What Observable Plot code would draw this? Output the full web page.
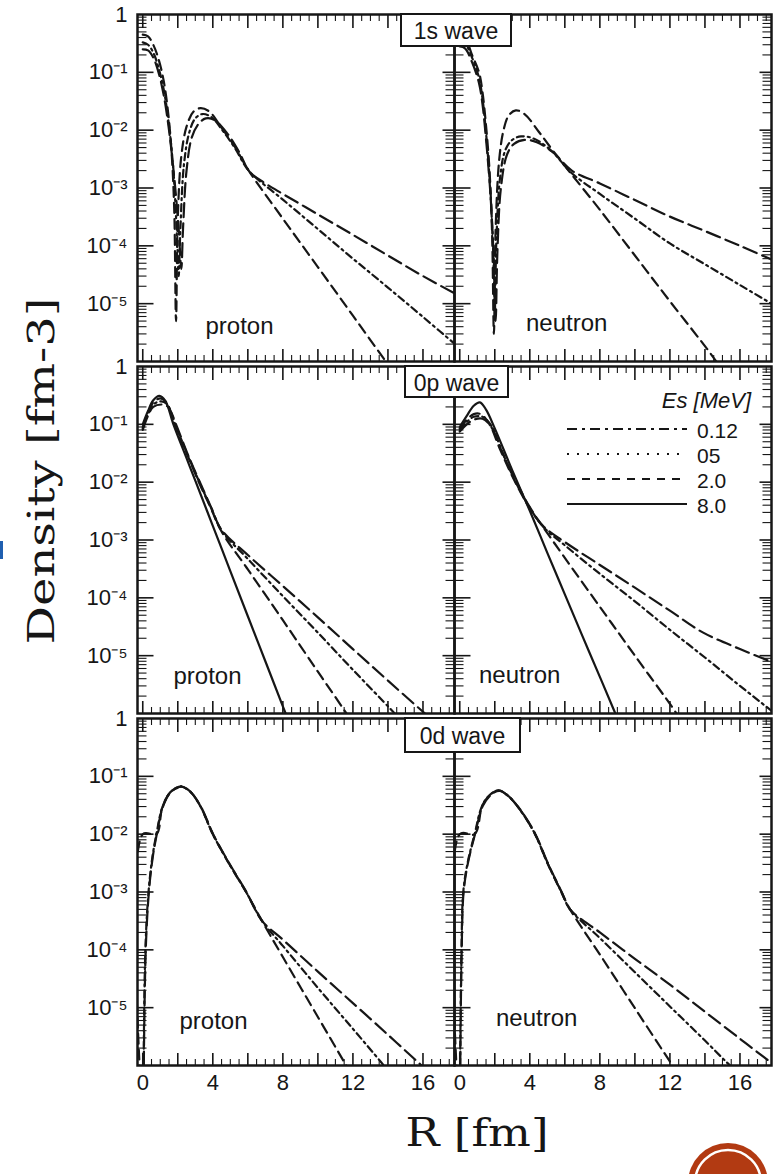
<!DOCTYPE html>
<html><head><meta charset="utf-8">
<script src="https://cdn.jsdelivr.net/npm/d3@7"></script>
<script src="https://cdn.jsdelivr.net/npm/@observablehq/plot@0.6"></script>
<style>
html,body{margin:0;padding:0;background:#fff;}
#chart{position:relative;width:773px;height:1174px;overflow:hidden;}
</style></head><body><div id="chart"></div>
<script>
// ---------- categories & tick labels ----------
const waves = ["1s", "0p", "0d"];
const waveLabels = ["1s wave", "0p wave", "0d wave"];
const nucleons = ["proton", "neutron"];
const energies = ["0.12", "05", "2.0", "8.0"];
const legendTitle = "Es [MeV]";
const xTickLabels = [0, 4, 8, 12, 16];
const yTickValues = [1, 1e-1, 1e-2, 1e-3, 1e-4, 1e-5];
const yTickText = ["1", "10⁻¹", "10⁻²", "10⁻³", "10⁻⁴", "10⁻⁵"];
const xTitle = "R [fm]";
const yTitle = "Density [fm-3]";

// ---------- series values: [R (fm), density (fm^-3)] ----------
// 1s wave, proton
const s1s_p_012 = [[0,0.25],[0.3,0.24],[0.6,0.18],[0.9,0.1],[1.2,0.04],[1.5,0.01],[1.8,0.0015],[2.05,2e-4],[2.2,4e-5],[2.3,2e-4],[2.5,2e-3],[2.8,0.0075],[3.2,0.013],[3.6,0.016],[4.1,0.015],[4.8,0.009],[5.5,0.0042],[6.1,0.0019],[7,0.0012],[8,7.9e-4],[10,3.5e-4],[12,1.55e-4],[14,6.8e-5],[16,3e-5],[18.2,1.3e-5]];
const s1s_p_05 = [[0,0.33],[0.3,0.3],[0.6,0.22],[0.9,0.12],[1.2,0.05],[1.5,0.012],[1.75,0.002],[1.95,1.5e-4],[2.05,3e-5],[2.15,2e-4],[2.35,2.5e-3],[2.65,0.009],[3.0,0.016],[3.4,0.019],[3.9,0.017],[4.6,0.0095],[5.3,0.0047],[6.05,0.002],[8,6.3e-4],[10,1.95e-4],[12,6e-5],[14,1.9e-5],[16,5.9e-6],[18.2,1.6e-6]];
const s1s_p_20 = [[0,0.45],[0.3,0.42],[0.6,0.3],[0.9,0.17],[1.2,0.07],[1.45,0.02],[1.65,0.004],[1.8,4e-4],[1.9,5e-6],[2.0,3e-4],[2.2,3.5e-3],[2.5,0.0115],[2.9,0.021],[3.3,0.024],[3.8,0.021],[4.5,0.011],[5.2,0.0055],[6.05,0.002],[8,2.95e-4],[10,4.3e-5],[12,6.2e-6],[14,8.9e-7],[15,3.4e-7]];
// 1s wave, neutron
const s1s_n_012 = [[0,0.28],[0.3,0.26],[0.7,0.15],[1.1,0.065],[1.3,0.028],[1.5,0.007],[1.75,8e-4],[1.95,5e-5],[2.05,5e-6],[2.15,8e-5],[2.35,1e-3],[2.7,0.0038],[3.1,0.0058],[3.7,0.0068],[4.4,0.0062],[5.3,0.0042],[6.4,0.002],[8,1.2e-3],[10,6.2e-4],[12,3.2e-4],[14,1.8e-4],[16,1e-4],[17.8,5.8e-5]];
const s1s_n_05 = [[0,0.35],[0.3,0.32],[0.7,0.18],[1.1,0.08],[1.3,0.035],[1.5,0.009],[1.7,0.0015],[1.9,1e-4],[2.0,1e-5],[2.1,1.5e-4],[2.3,1.5e-3],[2.6,0.0045],[3.0,0.0068],[3.5,0.0078],[4.2,0.0072],[5.2,0.0045],[6.4,0.0018],[8,7.9e-4],[10,2.95e-4],[12,1.1e-4],[14,4.8e-5],[16,2.1e-5],[17.8,1e-5]];
const s1s_n_20 = [[0,0.45],[0.3,0.4],[0.7,0.2],[1.1,0.1],[1.3,0.045],[1.5,0.012],[1.7,0.002],[1.85,1.5e-4],[1.95,3e-6],[2.05,2e-4],[2.25,3e-3],[2.5,0.01],[2.8,0.018],[3.2,0.022],[3.7,0.019],[4.5,0.0095],[5.3,0.0045],[6.4,0.0017],[8,4.2e-4],[10,6.8e-5],[12,1.1e-5],[14.3,1.4e-6],[15,7e-7]];
// 0p wave, proton
const s0p_p_012 = [[0,0.08],[0.3,0.14],[0.6,0.2],[1.1,0.22],[1.45,0.2],[1.9,0.1],[2.5,0.034],[3.2,0.011],[3.9,3.7e-3],[4.5,1.5e-3],[6,5.5e-4],[8,1.6e-4],[10,4.6e-5],[12,1.3e-5],[14,3.7e-6],[16,1.07e-6],[16.6,7.4e-7]];
const s0p_p_05 = [[0,0.085],[0.3,0.15],[0.6,0.22],[1.05,0.25],[1.4,0.22],[1.85,0.1],[2.5,0.033],[3.2,0.0105],[3.9,3.6e-3],[4.5,1.45e-3],[6,4.7e-4],[8,1.07e-4],[10,2.5e-5],[12,5.7e-6],[14.2,1.15e-6],[15,6.3e-7]];
const s0p_p_20 = [[0,0.09],[0.3,0.16],[0.6,0.24],[1.0,0.28],[1.35,0.24],[1.8,0.1],[2.5,0.032],[3.2,0.01],[3.9,3.5e-3],[4.5,1.4e-3],[6,3.1e-4],[8,4.1e-5],[10,5.3e-6],[11.5,1.15e-6],[12.2,5.6e-7]];
const s0p_p_80 = [[0,0.1],[0.3,0.17],[0.6,0.26],[0.95,0.31],[1.3,0.25],[1.75,0.1],[2.5,0.026],[3.0,0.0106],[4.0,1.76e-3],[5.0,2.9e-4],[6.0,4.8e-5],[7.0,8e-6],[8.0,1.33e-6],[8.6,4.6e-7]];
// 0p wave, neutron
const s0p_n_012 = [[0,0.075],[0.4,0.1],[0.8,0.12],[1.3,0.125],[1.8,0.09],[2.4,0.034],[3.1,0.012],[4.0,3.7e-3],[4.8,1.7e-3],[6,9.2e-4],[8,3.7e-4],[10,1.5e-4],[12,6e-5],[13.9,2.5e-5],[16,1.3e-5],[18,7.4e-6]];
const s0p_n_05 = [[0,0.08],[0.4,0.11],[0.8,0.135],[1.3,0.135],[1.8,0.095],[2.4,0.035],[3.1,0.0115],[4.0,3.6e-3],[4.8,1.65e-3],[6,8.1e-4],[8,2.6e-4],[10,8.7e-5],[12,2.8e-5],[14,9.3e-6],[16,3e-6],[18,1e-6]];
const s0p_n_20 = [[0,0.085],[0.4,0.12],[0.8,0.15],[1.2,0.15],[1.7,0.1],[2.3,0.037],[3.1,0.011],[4.0,3.5e-3],[4.8,1.6e-3],[6,4.9e-4],[8,7e-5],[10,1e-5],[12.2,1.2e-6],[12.7,7e-7]];
const s0p_n_80 = [[0,0.09],[0.4,0.14],[0.8,0.21],[1.15,0.24],[1.5,0.18],[2.0,0.085],[3,0.016],[4,3.2e-3],[5,6e-4],[6,1.15e-4],[7,2.2e-5],[8,4.3e-6],[8.8,1.15e-6],[9.2,5.9e-7]];
// 0d wave, proton
const s0d_p_012 = [[0.06,1e-6],[0.17,1e-4],[0.35,1e-3],[0.57,4e-3],[0.8,0.01],[1.12,0.028],[1.52,0.05],[1.92,0.062],[2.22,0.066],[2.72,0.054],[3.32,0.03],[4.02,0.01],[4.92,3.2e-3],[5.92,1e-3],[6.8,3.2e-4],[8,1.5e-4],[10,4.2e-5],[12,1.2e-5],[14,3.4e-6],[15.7,1.15e-6],[16.3,7.9e-7]];
const s0d_p_05 = [[0.05,1e-6],[0.15,1e-4],[0.33,1e-3],[0.55,4e-3],[0.78,0.01],[1.1,0.028],[1.5,0.05],[1.9,0.063],[2.2,0.067],[2.7,0.055],[3.3,0.03],[4.0,0.01],[4.9,3.2e-3],[5.9,1e-3],[6.8,3.2e-4],[8,1.17e-4],[10,2.2e-5],[12,4.3e-6],[13.6,1.15e-6],[14.2,6.9e-7]];
const s0d_p_20 = [[0,1e-7],[0,0.01],[0.78,0.01],[1.1,0.028],[1.5,0.05],[1.9,0.063],[2.2,0.067],[2.7,0.055],[3.3,0.03],[4.0,0.01],[4.9,3.2e-3],[5.9,1e-3],[6.8,3.2e-4],[8,7.5e-5],[10,6.9e-6],[11.5,1.15e-6],[12,6.3e-7]];
// 0d wave, neutron
const s0d_n_012 = [[0.03,1e-6],[0.11,1e-4],[0.22,1e-3],[0.47,3.2e-3],[0.87,0.01],[1.32,0.031],[1.82,0.049],[2.27,0.056],[2.82,0.044],[3.52,0.025],[4.32,0.01],[5.02,3.2e-3],[5.82,1e-3],[6.3,5e-4],[8,2e-4],[10,7e-5],[12,2.5e-5],[14,8.5e-6],[16,2.9e-6],[17.5,1.3e-6],[18,1e-6]];
const s0d_n_05 = [[0.02,1e-6],[0.1,1e-4],[0.2,1e-3],[0.45,3.2e-3],[0.85,0.01],[1.3,0.032],[1.8,0.05],[2.25,0.057],[2.8,0.045],[3.5,0.025],[4.3,0.01],[5.0,3.2e-3],[5.8,1e-3],[6.3,5e-4],[8,1.6e-4],[10,4.1e-5],[12,1.05e-5],[14,2.7e-6],[15.2,1.17e-6],[15.8,7.9e-7]];
const s0d_n_20 = [[0,1e-7],[0,0.01],[0.85,0.01],[1.3,0.032],[1.8,0.05],[2.25,0.057],[2.8,0.045],[3.5,0.025],[4.3,0.01],[5.0,3.2e-3],[5.8,1e-3],[6.3,5e-4],[8,8.3e-5],[10,9.8e-6],[12,1.17e-6],[12.5,6.9e-7]];

const series = [
  ["1s","proton","0.12",s1s_p_012],["1s","proton","05",s1s_p_05],["1s","proton","2.0",s1s_p_20],
  ["1s","neutron","0.12",s1s_n_012],["1s","neutron","05",s1s_n_05],["1s","neutron","2.0",s1s_n_20],
  ["0p","proton","0.12",s0p_p_012],["0p","proton","05",s0p_p_05],["0p","proton","2.0",s0p_p_20],["0p","proton","8.0",s0p_p_80],
  ["0p","neutron","0.12",s0p_n_012],["0p","neutron","05",s0p_n_05],["0p","neutron","2.0",s0p_n_20],["0p","neutron","8.0",s0p_n_80],
  ["0d","proton","0.12",s0d_p_012],["0d","proton","05",s0d_p_05],["0d","proton","2.0",s0d_p_20],
  ["0d","neutron","0.12",s0d_n_012],["0d","neutron","05",s0d_n_05],["0d","neutron","2.0",s0d_n_20]
];
const rows = series.flatMap(([wave, nucleon, es, pts]) =>
  pts.map(([r, d]) => ({wave, nucleon, es, key: wave + nucleon + es, r, d})));

const panelLabels = [
  {wave:"1s", nucleon:"proton", text:"proton"}, {wave:"1s", nucleon:"neutron", text:"neutron"},
  {wave:"0p", nucleon:"proton", text:"proton"}, {wave:"0p", nucleon:"neutron", text:"neutron"},
  {wave:"0d", nucleon:"proton", text:"proton"}, {wave:"0d", nucleon:"neutron", text:"neutron"}
];

// ---------- layout & styles ----------
const WIDTH = 773, HEIGHT = 1174, ML = 136, MR = 2, MT = 14, MB = 109, GAP = 5;
const colW = (WIDTH - ML - MR) / 2;
const rowH = (HEIGHT - MT - MB - 2 * GAP) / 3;
const ink = "#161616";
const curveDash = {"0.12": "14,6", "05": "7,4,2,4", "2.0": "10,6", "8.0": null};
const legendDash = {"0.12": "10,5,3,5", "05": "2,8", "2.0": "8,7", "8.0": null};
const labelOffsets = [[68,-28],[71.5,-31],[36,-30],[24.5,-31],[42,-37],[41.5,-40]];
const waveBoxes = [[401,511,14,46],[405,508,366,397],[405,520,718,752]];
const legendRowsY = [429, 454, 479, 504];

// tick positions (minor log ticks 2..9 per decade, x every 0.5)
const yMajor = [1e-1,1e-2,1e-3,1e-4,1e-5];
const yMinor = [];
for (let k = -6; k <= -1; k++) for (let m = 2; m <= 9; m++) yMinor.push(m * Math.pow(10, k));
const xMajor = d3.range(0, 18, 2);
const xMinor = d3.range(0.5, 18, 1).concat(d3.range(1, 18, 2));

const yTickL = (vals, len, sw) => Plot.tickY(vals, {y: d => d, insetRight: colW - len, stroke: ink, strokeWidth: sw});
const yTickR = (vals, len, sw) => Plot.tickY(vals, {y: d => d, insetLeft: colW - len, stroke: ink, strokeWidth: sw});
const xTickT = (vals, len, sw) => Plot.tickX(vals, {x: d => d, insetBottom: rowH - len, stroke: ink, strokeWidth: sw});
const xTickB = (vals, len, sw) => Plot.tickX(vals, {x: d => d, insetTop: rowH - len, stroke: ink, strokeWidth: sw});

const plot = Plot.plot({
  width: WIDTH, height: HEIGHT,
  marginLeft: ML, marginRight: MR, marginTop: MT, marginBottom: MB,
  style: {fontFamily: "'Liberation Sans', Arial, Helvetica, sans-serif", fontSize: "22px", color: ink, background: "white"},
  x: {domain: [-0.3, 17.8]},
  y: {type: "log", domain: [1e-6, 1]},
  fx: {domain: nucleons, axis: null, paddingInner: 0, paddingOuter: 0},
  fy: {domain: waves, axis: null, paddingInner: GAP / (rowH + GAP), paddingOuter: 0},
  marks: [
    ...energies.map(e => Plot.line(rows.filter(d => d.es === e), {
      x: "r", y: "d", z: "key", fx: "nucleon", fy: "wave",
      stroke: ink, strokeWidth: 2.2, strokeDasharray: curveDash[e],
      curve: "catmull-rom", clip: true
    })),
    yTickL(yMajor, 17, 1.6), yTickL(yMinor, 10, 1.1),
    yTickR(yMajor, 12, 1.6), yTickR(yMinor, 9, 1.1),
    xTickT(xMajor, 14, 1.6), xTickT(xMinor, 7, 1.1),
    xTickB(xMajor, 12, 1.6), xTickB(xMinor, 6, 1.1),
    Plot.frame({stroke: ink, strokeWidth: 2.5}),
    Plot.axisY(yTickValues, {tickSize: 0, tickPadding: 10, fontSize: 22, label: null,
      tickFormat: d => yTickText[yTickValues.indexOf(d)]}),
    Plot.axisX(xTickLabels, {tickSize: 0, tickPadding: 9, fontSize: 22, label: null}),
    ...panelLabels.map((l, i) => Plot.text([l], {
      fx: "nucleon", fy: "wave", text: "text", frameAnchor: "bottom-left",
      textAnchor: "start", lineAnchor: "bottom", dx: labelOffsets[i][0], dy: labelOffsets[i][1],
      fontSize: 24, fill: ink
    }))
  ]
});

document.getElementById("chart").appendChild(plot);
const svg = d3.select(plot);

// wave label boxes
waveLabels.forEach((t, i) => {
  const [x0, x1, y0, y1] = waveBoxes[i];
  svg.append("rect").attr("x", x0).attr("y", y0).attr("width", x1 - x0).attr("height", y1 - y0)
    .attr("fill", "white").attr("stroke", ink).attr("stroke-width", 2);
  svg.append("text").attr("x", (x0 + x1) / 2).attr("y", (y0 + y1) / 2 + 1)
    .attr("text-anchor", "middle").attr("dominant-baseline", "central")
    .attr("font-size", 23).attr("fill", ink).text(t);
});

// legend (in 0p neutron panel)
const lg = svg.append("g");
lg.append("text").attr("x", 751).attr("y", 408).attr("text-anchor", "end")
  .attr("font-size", 22).attr("font-style", "italic").attr("fill", ink).text(legendTitle);
energies.forEach((e, i) => {
  const y = legendRowsY[i];
  lg.append("line").attr("x1", 567).attr("x2", 687).attr("y1", y).attr("y2", y)
    .attr("stroke", ink).attr("stroke-width", 1.8)
    .attr("stroke-dasharray", legendDash[e]);
  lg.append("text").attr("x", 697).attr("y", y + 1).attr("text-anchor", "start")
    .attr("dominant-baseline", "central")
    .attr("font-size", 21).attr("fill", ink).text(e);
});

// axis titles
svg.append("text").attr("transform", "translate(54,471) rotate(-90)")
  .attr("text-anchor", "middle").attr("font-family", "'DejaVu Serif', serif")
  .attr("font-size", 37).attr("textLength", 347).attr("lengthAdjust", "spacingAndGlyphs")
  .attr("fill", ink).text(yTitle);
svg.append("text").attr("x", 477).attr("y", 1146)
  .attr("text-anchor", "middle").attr("font-family", "'DejaVu Serif', serif")
  .attr("font-size", 40).attr("textLength", 143).attr("lengthAdjust", "spacingAndGlyphs")
  .attr("fill", ink).text(xTitle);

// decorative slide elements
svg.append("circle").attr("cx", 728).attr("cy", 1183).attr("r", 40).attr("fill", "#b23a12");
svg.append("circle").attr("cx", 728).attr("cy", 1183).attr("r", 33).attr("fill", "none")
  .attr("stroke", "white").attr("stroke-width", 2.5);
svg.append("rect").attr("x", 0).attr("y", 541).attr("width", 3).attr("height", 18).attr("fill", "#1f5fb0");
</script>
</body></html>
